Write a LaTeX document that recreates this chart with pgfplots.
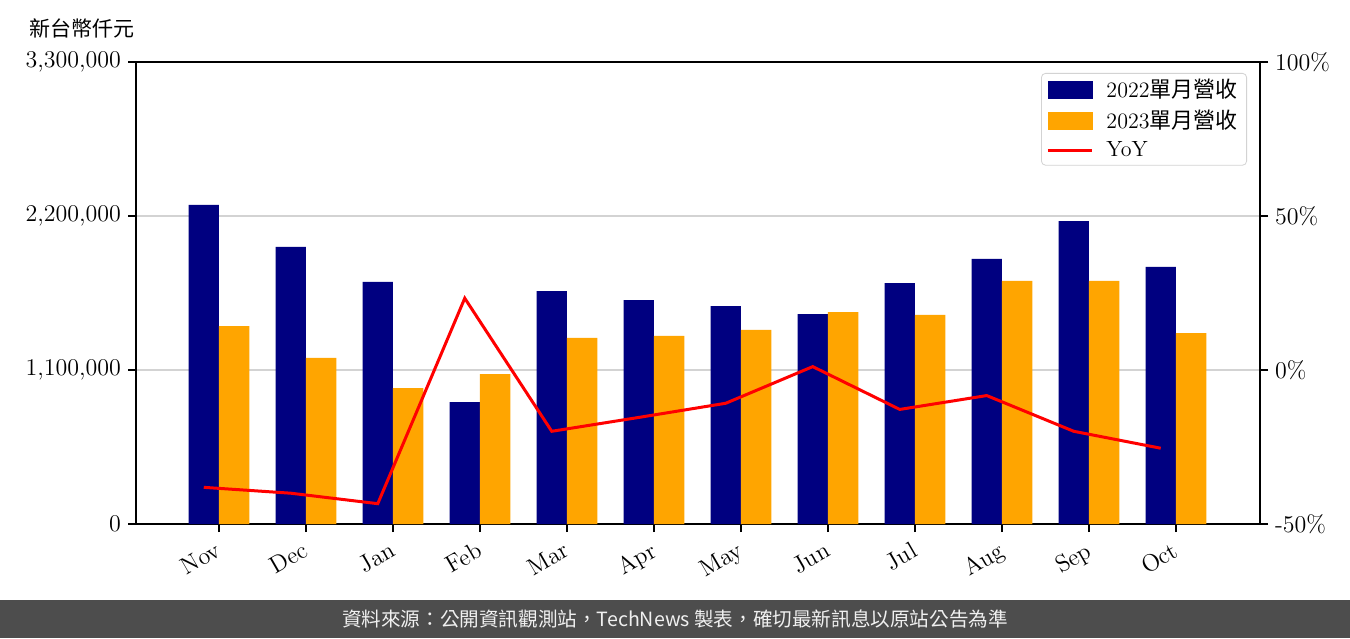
\documentclass[border=0pt]{standalone}
\usepackage{fontspec}
\usepackage{pgfplots}
\usepackage{pgfplotstable}
\pgfplotsset{compat=1.18}
\newfontfamily\cjk{Noto Sans CJK TC}
\definecolor{navybar}{HTML}{000080}
\definecolor{orangebar}{HTML}{FFA500}
\definecolor{footerbg}{HTML}{4D4D4D}
\definecolor{gridc}{HTML}{D3D3D3}

\pgfplotstableread{
x y22 y23 yoy
0 2279000 1414000 -38.1
1 1979000 1186000 -40.0
2 1729000 971000 -43.4
3 871000 1071000 23.3
4 1664000 1329000 -19.9
5 1600000 1343000 -15.4
6 1557000 1386000 -10.8
7 1500000 1514000 1.1
8 1721000 1493000 -12.8
9 1893000 1736000 -8.3
10 2164000 1736000 -19.9
11 1836000 1364000 -25.4
}\data

\newcommand{\lbl}{\fontsize{12}{14}\selectfont}
\newcommand{\leg}{\fontsize{11}{13}\selectfont}

\begin{document}
\begin{tikzpicture}
\path[use as bounding box, fill=white] (0,0) rectangle (675pt,319pt);
\begin{axis}[
  at={(68pt,57pt)}, anchor=south west, scale only axis,
  width=562pt, height=231pt,
  xmin=-0.954, xmax=11.966, ymin=0, ymax=3300000,
  scaled y ticks=false,
  xtick={0,...,11},
  xticklabels={Nov,Dec,Jan,Feb,Mar,Apr,May,Jun,Jul,Aug,Sep,Oct},
  x tick label style={rotate=30, anchor=north east, font=\lbl, inner sep=1pt, yshift=-1.5pt, xshift=-3pt},
  ytick={0,1100000,2200000,3300000},
  yticklabels={0,{1,100,000},{2,200,000},{3,300,000}},
  y tick label style={font=\lbl},
  ymajorgrids, grid style={color=gridc, line width=0.6pt},
  tick align=outside, major tick length=4pt,
  tick style={black, line width=0.8pt},
  xtick pos=lower, ytick pos=left,
  axis line style={line width=1pt},
  clip=false,
]
\addplot[ybar, bar width=0.35, bar shift=-0.175, fill=navybar, draw=none] table[x=x, y=y22] {\data};
\addplot[ybar, bar width=0.35, bar shift=0.175, fill=orangebar, draw=none] table[x=x, y=y23] {\data};
\end{axis}
\begin{axis}[
  at={(68pt,57pt)}, anchor=south west, scale only axis,
  width=562pt, height=231pt,
  xmin=-0.954, xmax=11.966, ymin=-50, ymax=100,
  axis x line=none, axis y line*=right,
  ytick={-50,0,50,100},
  yticklabels={-50\%,0\%,50\%,100\%},
  y tick label style={font=\lbl},
  tick align=outside, major tick length=4pt,
  tick style={black, line width=0.8pt},
  axis line style={line width=1pt},
  legend style={at={(1,1)}, xshift=-6.5pt, yshift=-5.5pt, anchor=north east,
    draw=gridc, rounded corners=2pt, fill=white, font=\leg,
    row sep=0.7pt, inner xsep=2.5pt, inner ysep=1pt,
    nodes={inner xsep=2pt},
    /tikz/every odd column/.append style={column sep=4.5pt}},
  legend cell align=left,
]
\addlegendimage{legend image code/.code={\fill[navybar, sharp corners] (0pt,-4.25pt) rectangle (22pt,4.25pt);}}
\addlegendentry{2022{\cjk 單月營收}}
\addlegendimage{legend image code/.code={\fill[orangebar, sharp corners] (0pt,-4.25pt) rectangle (22pt,4.25pt);}}
\addlegendentry{2023{\cjk 單月營收}}
\addplot[red, line width=1.5pt, mark=none,
  legend image code/.code={\draw[red, line width=1.5pt, sharp corners] (0pt,0pt) -- (22pt,0pt);}]
  table[x expr=\thisrow{x}-0.175, y=yoy] {\data};
\addlegendentry{YoY}
\end{axis}
\node at (41pt,305pt) {\cjk\fontsize{10.5}{12}\selectfont 新台幣仟元};
\fill[footerbg] (0,0) rectangle (675pt,19pt);
\node[text=white!94!black] at (337.5pt,9.5pt) {\cjk\fontsize{9.8}{12}\selectfont 資料來源：公開資訊觀測站，TechNews 製表，確切最新訊息以原站公告為準};
\end{tikzpicture}
\end{document}
